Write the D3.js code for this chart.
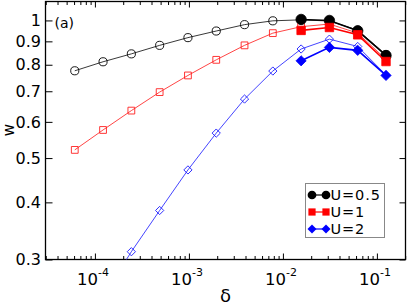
<!DOCTYPE html>
<html>
<head>
<meta charset="utf-8">
<script src="https://cdn.jsdelivr.net/npm/d3@7"></script>
<style>
  body { margin: 0; background: #fff; }
  svg { display: block; font-family: "DejaVu Sans", sans-serif; }
</style>
</head>
<body>
<div id="chart"></div>
<script>
// delta = 2^-14 ... 2^-3
var delta = [6.1035e-5, 1.2207e-4, 2.4414e-4, 4.8828e-4, 9.7656e-4, 1.9531e-3,
             3.9063e-3, 7.8125e-3, 1.5625e-2, 3.125e-2, 6.25e-2, 0.125];

// open symbols (thin lines)
var wOpenU05 = [0.776, 0.812, 0.845, 0.882, 0.917, 0.948, 0.979, 0.998, 1.003, 0.997, 0.952, 0.842];
var wOpenU1  = [0.521, 0.576, 0.635, 0.697, 0.758, 0.820, 0.882, 0.938, 0.969, 0.982, 0.938, 0.822];
var wOpenU2  = [null, 0.249, 0.312, 0.384, 0.471, 0.567, 0.673, 0.775, 0.866, 0.910, 0.877, 0.760];

// filled symbols, last four deltas
var deltaFilled = [1.5625e-2, 3.125e-2, 6.25e-2, 0.125];
var wFilledU05 = [1.005, 1.000, 0.949, 0.838];
var wFilledU1  = [0.951, 0.965, 0.930, 0.813];
var wFilledU2  = [0.816, 0.873, 0.860, 0.758];

var legendLabels = ["U=0.5", "U=1", "U=2"];
var yTicks = [0.3, 0.4, 0.5, 0.6, 0.7, 0.8, 0.9, 1];
var yTickLabels = ["0.3", "0.4", "0.5", "0.6", "0.7", "0.8", "0.9", "1"];
var xMajor = [1e-4, 1e-3, 1e-2, 1e-1];
var xExp = ["-4", "-3", "-2", "-1"];

var width = 407, height = 305;
var plotL = 45.5, plotR = 405.5, plotT = 1.5, plotB = 259.5;

var svg = d3.select("#chart").append("svg").attr("width", width).attr("height", height);

var xScale = d3.scaleLog().domain([2.98e-5, 0.2015]).range([plotL, plotR]);
var yScale = d3.scaleLog().domain([0.3, 1.1]).range([plotB, plotT]);

// minor ticks on x
var xMinor = [];
[1e-5, 1e-4, 1e-3, 1e-2, 1e-1].forEach(function(dec){
    for (var k = 2; k <= 9; k++) {
        var v = k * dec;
        if (v >= 2.98e-5 && v <= 0.2015) xMinor.push(v);
    }
});

svg.append("defs").append("clipPath").attr("id", "plotclip")
    .append("rect").attr("x", plotL).attr("y", plotT).attr("width", plotR - plotL).attr("height", plotB - plotT);

function styleAxis(g){
    g.select(".domain").remove();
    g.selectAll("line").attr("stroke", "#000").attr("stroke-width", 1);
    g.selectAll("text").remove();
}

// bottom / top / left / right ticks (inward)
svg.append("g").attr("transform", "translate(0," + plotB + ")")
    .call(d3.axisBottom(xScale).tickValues(xMajor).tickSize(-6)).call(styleAxis);
svg.append("g").attr("transform", "translate(0," + plotB + ")")
    .call(d3.axisBottom(xScale).tickValues(xMinor).tickSize(-3.5)).call(styleAxis);
svg.append("g").attr("transform", "translate(0," + plotT + ")")
    .call(d3.axisTop(xScale).tickValues(xMajor).tickSize(-6)).call(styleAxis);
svg.append("g").attr("transform", "translate(0," + plotT + ")")
    .call(d3.axisTop(xScale).tickValues(xMinor).tickSize(-3.5)).call(styleAxis);
svg.append("g").attr("transform", "translate(" + plotL + ",0)")
    .call(d3.axisLeft(yScale).tickValues(yTicks).tickSize(-7)).call(styleAxis);
svg.append("g").attr("transform", "translate(" + plotR + ",0)")
    .call(d3.axisRight(yScale).tickValues(yTicks).tickSize(-6)).call(styleAxis);

// frame
svg.append("rect").attr("x", plotL).attr("y", plotT).attr("width", plotR - plotL).attr("height", plotB - plotT)
    .attr("fill", "none").attr("stroke", "#000").attr("stroke-width", 1.3);

// y tick labels
svg.selectAll(".ylab").data(yTicks).enter().append("text")
    .attr("class", "ylab")
    .attr("x", plotL - 4.5)
    .attr("y", function(d){ return yScale(d); })
    .attr("dy", "0.36em")
    .attr("text-anchor", "end")
    .attr("font-size", 16)
    .text(function(d, i){ return yTickLabels[i]; });

// x tick labels 10^n
var xl = svg.selectAll(".xlab").data(xMajor).enter().append("text")
    .attr("class", "xlab")
    .attr("x", function(d){ return xScale(d) - 2; })
    .attr("y", 284.5)
    .attr("text-anchor", "middle")
    .attr("font-size", 16.5);
xl.append("tspan").text("10");
xl.append("tspan").attr("dy", -8.5).attr("font-size", 11).text(function(d, i){ return xExp[i]; });

// axis titles
svg.append("text").attr("x", 225.5).attr("y", 302).attr("text-anchor", "middle")
    .attr("font-size", 18).text("δ");
svg.append("text").attr("transform", "translate(14,130) rotate(-90)").attr("text-anchor", "middle")
    .attr("font-size", 15).text("w");
svg.append("text").attr("x", 54.5).attr("y", 27.5).attr("font-size", 14).text("(a)");

var line = d3.line()
    .x(function(d){ return xScale(d.x); })
    .y(function(d){ return yScale(d.w); });

var plot = svg.append("g").attr("clip-path", "url(#plotclip)");

function pts(xs, ws){
    return xs.map(function(x, i){ return {x: x, w: ws[i]}; }).filter(function(d){ return d.w != null; });
}

// square diamond (rotated square), size = area
var symDiamond = {
    draw: function(context, size){
        var h = Math.sqrt(size / 2);
        context.moveTo(0, -h);
        context.lineTo(h, 0);
        context.lineTo(0, h);
        context.lineTo(-h, 0);
        context.closePath();
    }
};
var symCircle = d3.symbolCircle, symSquare = d3.symbolSquare;

function drawSeries(data, color, lineColor, lw, sym, size, filled){
    plot.append("path").datum(data)
        .attr("d", line).attr("fill", "none")
        .attr("stroke", lineColor).attr("stroke-width", lw);
    plot.selectAll(null).data(data).enter().append("path")
        .attr("transform", function(d){ return "translate(" + xScale(d.x) + "," + yScale(d.w) + ")"; })
        .attr("d", d3.symbol().type(sym).size(size))
        .attr("fill", filled ? color : "none")
        .attr("stroke", color)
        .attr("stroke-width", filled ? 0.8 : 0.9);
}

drawSeries(pts(delta, wOpenU05), "#000", "#222", 0.9, symCircle, 52, false);
drawSeries(pts(delta, wOpenU1), "#ff2020", "#ff3030", 0.9, symSquare, 46, false);
drawSeries(pts(delta, wOpenU2), "#1818ff", "#3030ff", 0.9, symDiamond, 34, false);
drawSeries(pts(deltaFilled, wFilledU05), "#000", "#000", 1.6, symCircle, 85, true);
drawSeries(pts(deltaFilled, wFilledU1), "#ff0000", "#ff0000", 1.6, symSquare, 72, true);
drawSeries(pts(deltaFilled, wFilledU2), "#0000ff", "#0000ff", 1.6, symDiamond, 52, true);

// legend
var lg = svg.append("g");
lg.append("rect").attr("x", 305.5).attr("y", 183.5).attr("width", 79).attr("height", 54)
    .attr("fill", "#fff").attr("stroke", "#888").attr("stroke-width", 1);
var legColors = ["#000", "#ff0000", "#0000ff"];
var legSyms = [symCircle, symSquare, symDiamond];
var legSizes = [60, 52, 40];
legendLabels.forEach(function(lab, i){
    var y = 195 + i * 17;
    lg.append("line").attr("x1", 312).attr("x2", 326).attr("y1", y).attr("y2", y)
        .attr("stroke", legColors[i]).attr("stroke-width", 1.2);
    [312, 326].forEach(function(x){
        lg.append("path").attr("transform", "translate(" + x + "," + y + ")")
            .attr("d", d3.symbol().type(legSyms[i]).size(legSizes[i]))
            .attr("fill", legColors[i]);
    });
    lg.append("text").attr("x", 330.5).attr("y", y).attr("dy", "0.36em")
        .attr("font-size", 14.5).attr("letter-spacing", 0.9).text(lab);
});
</script>
</body>
</html>
